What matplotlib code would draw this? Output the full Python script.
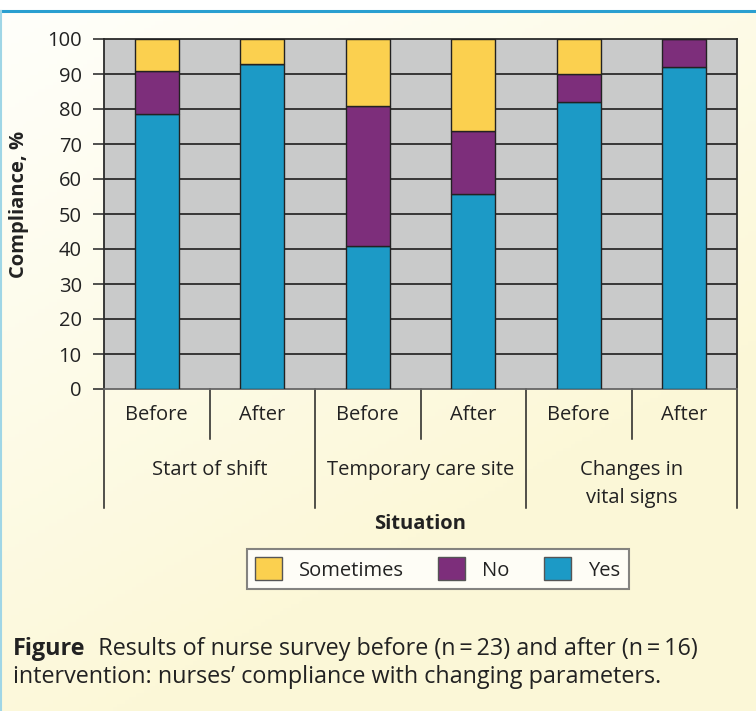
import numpy as np
import matplotlib.pyplot as plt
from matplotlib.patches import Patch

plt.rcParams['font.family'] = ['Open Sans', 'DejaVu Sans']

# Data (percent of nurses)
situations = ["Start of shift", "Temporary care site", "Changes in\nvital signs"]
phases = ["Before", "After"]
yes = [78.5, 93.0, 40.8, 55.8, 82.0, 92.0]
no = [12.5, 0.0, 40.0, 18.0, 8.0, 8.0]
sometimes = [9.0, 7.0, 19.2, 26.2, 10.0, 0.0]
yticks = list(range(0, 101, 10))
caption_bold = "Figure"
caption_text = ("  Results of nurse survey before (n\u2009=\u200923) and after (n\u2009=\u200916)\n"
                "intervention: nurses\u2019 compliance with changing parameters.")

c_yes = "#1C9AC6"
c_no = "#7D2E7B"
c_some = "#FBD04F"
c_bg = "#C9CACA"
edge = "#222222"

fig = plt.figure(figsize=(7.56, 7.11), dpi=100)

# cream gradient background
bg = fig.add_axes([0, 0, 1, 1], zorder=-10)
gx, gy = np.meshgrid(np.linspace(0, 1, 200), np.linspace(0, 1, 200))
g = np.clip(0.55 * gx + 0.9 * gy, 0, 1)
top = np.array([1.0, 1.0, 0.985])
bot = np.array([0.988, 0.972, 0.845])
img = top[None, None, :] * (1 - g[..., None]) + bot[None, None, :] * g[..., None]
bg.imshow(img, extent=[0, 1, 0, 1], aspect='auto', origin='upper')
bg.fill_between([0, 1], 1 - 10 / 711, 1, color='white', zorder=2)
bg.plot([0, 1], [1 - 11 / 711] * 2, color="#2A9FD0", lw=2.2, zorder=3)
bg.plot([0.001, 0.001], [0, 1 - 11 / 711], color="#9FD6E6", lw=1.5, zorder=3)
bg.set_xlim(0, 1)
bg.set_ylim(0, 1)
bg.axis('off')

ax = fig.add_axes([104 / 756, 1 - 389 / 711, 633 / 756, 350 / 711])
ax.set_facecolor(c_bg)

x = np.arange(len(yes))
w = 0.42
ax.bar(x, yes, w, color=c_yes, edgecolor=edge, lw=1.0, zorder=3)
ax.bar(x, no, w, bottom=yes, color=c_no, edgecolor=edge, lw=1.0, zorder=3)
base = np.array(yes) + np.array(no)
ax.bar(x, sometimes, w, bottom=base, color=c_some, edgecolor=edge, lw=1.0, zorder=3)

ax.set_xlim(-0.5, len(yes) - 0.5)
ax.set_ylim(0, 100)
ax.set_yticks(yticks)
ax.tick_params(axis='y', length=8, width=1.2, color="#333333", labelsize=14.5, pad=8,
               labelcolor="#222222")
ax.set_xticks([])
for yv in yticks[1:-1]:
    ax.axhline(yv, color="#2B2B2B", lw=1.3, zorder=1)
for s in ax.spines.values():
    s.set_color("#2B2B2B")
    s.set_linewidth(1.3)
ax.spines['bottom'].set_color("#666666")
ax.set_ylabel("Compliance, %", fontsize=14.5, fontweight='bold', color="#222222")
ax.yaxis.set_label_coords(-0.118, 0.526)

# multi-level category axis
tr = ax.get_xaxis_transform()
for i in x:
    ax.text(i, -0.075, phases[i % 2], transform=tr, ha='center', va='center',
            fontsize=14.5, color="#222222")
for k in range(len(situations)):
    ax.plot([2 * k + 0.5] * 2, [0, -0.143], transform=tr, color="#222222", lw=1.1,
            clip_on=False)
    ax.text(2 * k + 0.5, -0.202, situations[k], transform=tr, ha='center', va='top',
            fontsize=14.5, color="#222222", linespacing=1.55)
for b in range(len(situations) + 1):
    ax.plot([2 * b - 0.5] * 2, [0, -0.34], transform=tr, color="#222222", lw=1.1,
            clip_on=False)
ax.text(0.5, -0.385, "Situation", transform=ax.transAxes, ha='center', va='center',
        fontsize=14.5, fontweight='bold', color="#222222")

handles = [Patch(facecolor=c_some, edgecolor="#555555", label="Sometimes"),
           Patch(facecolor=c_no, edgecolor="#555555", label="No"),
           Patch(facecolor=c_yes, edgecolor="#555555", label="Yes")]
leg = fig.legend(handles=handles, loc='center', bbox_to_anchor=(437.5 / 756, 1 - 569 / 711),
                 ncol=3, fontsize=14.5, frameon=True, fancybox=False, handlelength=1.35,
                 handleheight=1.35, columnspacing=1.7, handletextpad=0.85, borderpad=0.4,
                 borderaxespad=0.0)
leg.get_frame().set_edgecolor("#666666")
leg.get_frame().set_linewidth(1.5)
for t in leg.get_texts():
    t.set_color("#222222")

t1 = fig.text(13 / 756, 1 - 649 / 711, caption_bold, fontsize=16.8, fontweight='bold',
              color="#222222", va='center')
fig.canvas.draw()
bb = t1.get_window_extent()
fig.text(bb.x1 / 756, 1 - 649 / 711, caption_text.split("\n")[0], fontsize=16.8,
         color="#222222", va='center')
fig.text(13 / 756, 1 - 677 / 711, caption_text.split("\n")[1], fontsize=16.8,
         color="#222222", va='center')

fig.savefig("out.png", dpi=100)
